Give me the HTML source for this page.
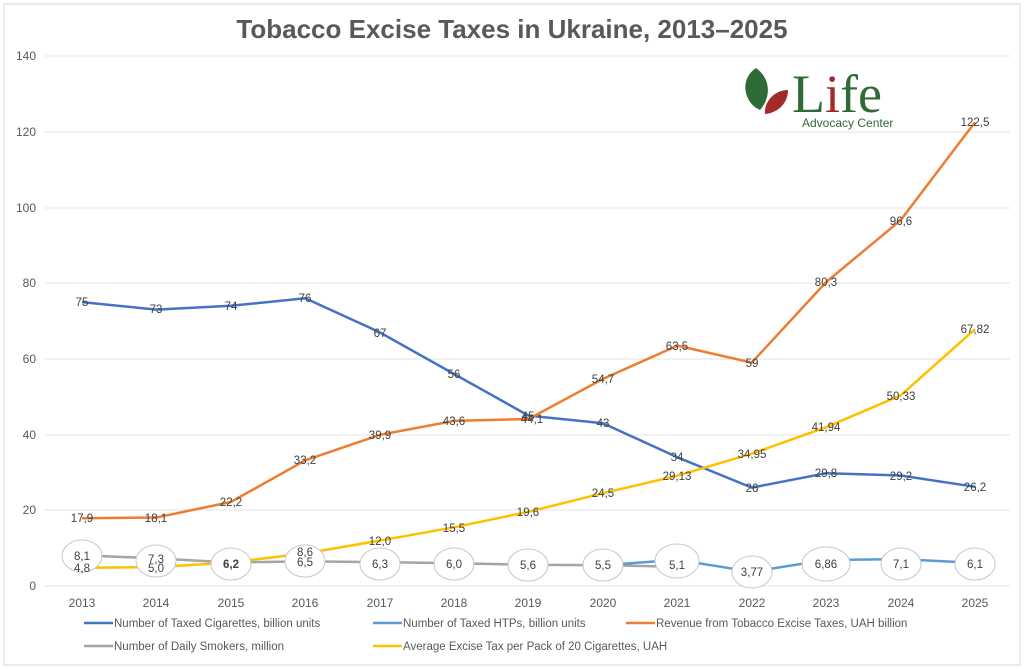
<!DOCTYPE html>
<html><head><meta charset="utf-8"><style>
body{margin:0;background:#fff}
svg{display:block;font-family:"Liberation Sans",sans-serif}
</style></head><body>
<svg width="1024" height="669" viewBox="0 0 1024 669">
<rect x="4" y="4" width="1016" height="661" fill="#fff" stroke="#d9d9d9"/>
<text x="512" y="38" text-anchor="middle" font-size="26" font-weight="bold" fill="#595959">Tobacco Excise Taxes in Ukraine, 2013–2025</text>
<g stroke="#e3e3e3" stroke-width="1">
<line x1="45" x2="1010" y1="56" y2="56"/><line x1="45" x2="1010" y1="132" y2="132"/><line x1="45" x2="1010" y1="208" y2="208"/><line x1="45" x2="1010" y1="283" y2="283"/><line x1="45" x2="1010" y1="359" y2="359"/><line x1="45" x2="1010" y1="435" y2="435"/><line x1="45" x2="1010" y1="510" y2="510"/><line x1="45" x2="1010" y1="586" y2="586"/>
</g>
<g font-size="12" fill="#595959" text-anchor="end">
<text x="36" y="60">140</text><text x="36" y="136">120</text><text x="36" y="212">100</text><text x="36" y="287">80</text><text x="36" y="363">60</text><text x="36" y="439">40</text><text x="36" y="514">20</text><text x="36" y="590">0</text>
</g>
<g font-size="12" fill="#595959" text-anchor="middle">
<text x="82" y="607">2013</text><text x="156" y="607">2014</text><text x="231" y="607">2015</text><text x="305" y="607">2016</text><text x="380" y="607">2017</text><text x="454" y="607">2018</text><text x="528" y="607">2019</text><text x="603" y="607">2020</text><text x="677" y="607">2021</text><text x="752" y="607">2022</text><text x="826" y="607">2023</text><text x="901" y="607">2024</text><text x="975" y="607">2025</text>
</g>
<!-- logo -->
<path d="M756 68 C738 80 745 104 760 110 C772 96 770 78 756 68Z" fill="#2f6b37"/>
<path d="M788 90 C775 90 764 101 765 114 C778 113 788 103 788 90Z" fill="#a32a2a"/>
<text x="792" y="112" font-family="Liberation Serif,serif" font-size="54" fill="#2f6b37">L<tspan fill="#a32a2a">i</tspan>fe</text>
<text x="802" y="127" font-size="12" fill="#2f6b37">Advocacy Center</text>
<g fill="none" stroke-width="2.5" stroke-linejoin="round">
<polyline stroke="#4472c4" points="82,302.1 156.4,309.6 230.8,305.8 305.3,298.3 379.7,332.3 454.1,374 528.5,415.6 603,423.2 677.4,457.3 751.8,487.6 826.2,473.2 900.6,475.5 975,486.8"/>
<polyline stroke="#ed7d31" points="82,518.2 156.4,517.5 230.8,502 305.3,460.3 379.7,434.9 454.1,420.9 528.5,419 603,378.9 677.4,345.6 751.8,362.6 826.2,282 900.6,220.3 975,122.2"/>
<polyline stroke="#ffc000" points="82,567.8 156.4,567.1 230.8,562.5 305.3,553.4 379.7,540.6 454.1,527.3 528.5,511.8 603,493.2 677.4,475.7 751.8,453.7 826.2,427.2 900.6,395.5 975,329.2"/>
<polyline stroke="#a5a5a5" points="82,555.3 156.4,558.4 230.8,562.5 305.3,561.4 379.7,562.1 454.1,563.3 528.5,564.8 603,565.2 677.4,566.7"/>
<polyline stroke="#5b9bd5" points="603,565.2 677.4,559.9 751.8,571.7 826.2,560 900.6,559.1 975,562.9"/>
</g>
<g fill="#fff" stroke="#c8c8c8" stroke-width="1">
<ellipse cx="82" cy="556" rx="20" ry="16"/><ellipse cx="156" cy="561" rx="20" ry="16"/><ellipse cx="231" cy="564" rx="20" ry="16"/><ellipse cx="305" cy="561" rx="20" ry="16"/><ellipse cx="380" cy="564" rx="20" ry="16"/><ellipse cx="454" cy="564" rx="20" ry="16"/><ellipse cx="528" cy="565" rx="20" ry="16"/><ellipse cx="603" cy="565" rx="20" ry="16"/><ellipse cx="677" cy="561" rx="22" ry="17"/><ellipse cx="752" cy="572" rx="20" ry="16"/><ellipse cx="826" cy="564" rx="24" ry="17"/><ellipse cx="901" cy="564" rx="20" ry="16"/><ellipse cx="975" cy="564" rx="20" ry="16"/>
</g>
<g font-size="11.5" fill="#404040" text-anchor="middle">
<text x="82" y="306">75</text><text x="156" y="313">73</text><text x="231" y="310">74</text><text x="305" y="302">76</text><text x="380" y="337">67</text><text x="454" y="378">56</text><text x="528" y="420">45</text><text x="603" y="427">43</text><text x="677" y="461">34</text><text x="752" y="492">26</text><text x="826" y="477">29,8</text><text x="901" y="480">29,2</text><text x="975" y="491">26,2</text>
<text x="82" y="522">17,9</text><text x="156" y="522">18,1</text><text x="231" y="506">22,2</text><text x="305" y="464">33,2</text><text x="380" y="439">39,9</text><text x="454" y="425">43,6</text><text x="532" y="423">44,1</text><text x="603" y="383">54,7</text><text x="677" y="350">63,5</text><text x="752" y="367">59</text><text x="826" y="286">80,3</text><text x="901" y="225">96,6</text><text x="975" y="126">122,5</text>
<text x="82" y="572">4,8</text><text x="156" y="572">5,0</text><text x="305" y="556">8,6</text><text x="380" y="545">12,0</text><text x="454" y="532">15,5</text><text x="528" y="516">19,6</text><text x="603" y="497">24,5</text><text x="677" y="480">29,13</text><text x="752" y="458">34,95</text><text x="826" y="431">41,94</text><text x="901" y="400">50,33</text><text x="975" y="333">67,82</text>
<text x="82" y="560">8,1</text><text x="156" y="563">7,3</text><text x="231" y="568" font-weight="bold">6,2</text><text x="305" y="566">6,5</text><text x="380" y="568">6,3</text><text x="454" y="568">6,0</text><text x="528" y="569">5,6</text><text x="603" y="569">5,5</text><text x="677" y="569">5,1</text><text x="752" y="576">3,77</text><text x="826" y="568">6,86</text><text x="901" y="568">7,1</text><text x="975" y="568">6,1</text>
</g>
<g stroke-width="2.5">
<line x1="84" x2="113" y1="623" y2="623" stroke="#4472c4"/><line x1="373" x2="402" y1="623" y2="623" stroke="#5b9bd5"/><line x1="626" x2="655" y1="623" y2="623" stroke="#ed7d31"/>
<line x1="84" x2="113" y1="646" y2="646" stroke="#a5a5a5"/><line x1="373" x2="402" y1="646" y2="646" stroke="#ffc000"/>
</g>
<g font-size="11.5" fill="#595959">
<text x="114" y="627">Number of Taxed Cigarettes, billion units</text><text x="403" y="627">Number of Taxed HTPs, billion units</text><text x="656" y="627">Revenue from Tobacco Excise Taxes, UAH billion</text>
<text x="114" y="650">Number of Daily Smokers, million</text><text x="403" y="650">Average Excise Tax per Pack of 20 Cigarettes, UAH</text>
</g>
</svg>
</body></html>
